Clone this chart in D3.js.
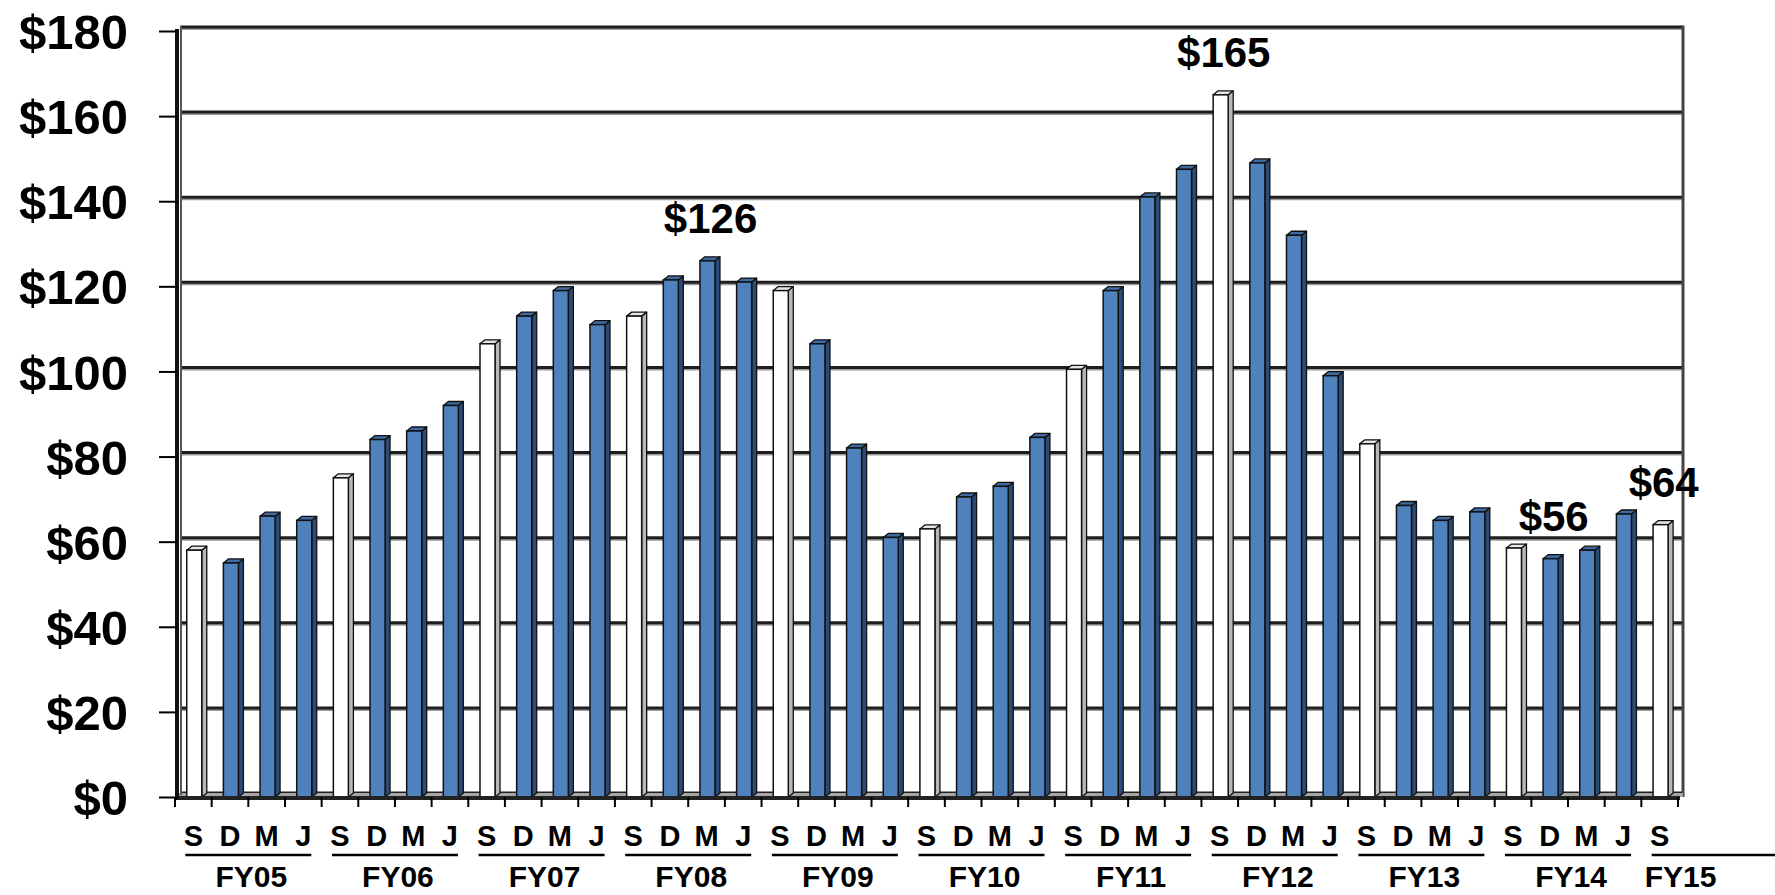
<!DOCTYPE html>
<html>
<head>
<meta charset="utf-8">
<script src="https://cdn.jsdelivr.net/npm/d3@7"></script>
<style>
  body { margin: 0; background: #fff; }
  svg text { font-family: "Liberation Sans", Arial, sans-serif; font-weight: bold; fill: #000; }
</style>
</head>
<body>
<div id="chart"></div>
<script>
// fiscal years and how many quarter-end months each one has on the chart
const fiscalYears = ["FY05", "FY06", "FY07", "FY08", "FY09", "FY10", "FY11", "FY12", "FY13", "FY14", "FY15"];
const monthsPerYear = [4, 4, 4, 4, 4, 4, 4, 4, 4, 4, 1];
const monthLetters = ["S", "D", "M", "J"];

// values in $ (millions), one per quarter
const values = [
  58, 55, 66, 65,
  75, 84, 86, 92,
  106.5, 113, 119, 111,
  113, 121.5, 126, 121,
  119, 106.5, 82, 61,
  63, 70.5, 73, 84.5,
  100.5, 119, 141, 147.5,
  165, 149, 132, 99,
  83, 68.5, 65, 67,
  58.5, 56, 58, 66.5,
  64
];

const yTicks = [0, 20, 40, 60, 80, 100, 120, 140, 160, 180];

// bars that carry a value label
const calloutIndex = [14, 28, 37, 40];

// build the category list
const cats = [];
fiscalYears.forEach(function(fy, k) {
  for (let m = 0; m < monthsPerYear[k]; m++) {
    cats.push({fy: fy, month: monthLetters[m], i: cats.length, value: values[cats.length]});
  }
});

const W = 1775, H = 895;
const svg = d3.select("#chart")
  .append("svg")
    .attr("width", W)
    .attr("height", H);

const x = d3.scaleBand()
  .domain(d3.range(cats.length))
  .range([175, 1678])
  .padding(0);
const bw = x.bandwidth();

const y = d3.scaleLinear()
  .domain([0, 180])
  .range([797, 31]);

// 3D offsets (back wall and bar depth)
const wallDx = 6, wallDy = 4;
const dx = 5, dy = 4;
const x0 = x.range()[0], x1 = x.range()[1];

// back wall gridlines
const grid = svg.append("g");
yTicks.forEach(function(t) {
  grid.append("line")
    .attr("x1", x0 + wallDx).attr("x2", x1 + 5)
    .attr("y1", y(t) - wallDy + 2).attr("y2", y(t) - wallDy + 2)
    .attr("stroke", "#9a9a9a").attr("stroke-width", 2);
  grid.append("line")
    .attr("x1", x0 + wallDx).attr("x2", x1 + 5)
    .attr("y1", y(t) - wallDy).attr("y2", y(t) - wallDy)
    .attr("stroke", "#1e1e1e").attr("stroke-width", 3);
});

// right edge of the back wall
svg.append("line")
  .attr("x1", x1 + 5).attr("x2", x1 + 5)
  .attr("y1", y(180) - wallDy - 1.5).attr("y2", y(0))
  .attr("stroke", "#444").attr("stroke-width", 3);

// floor
svg.append("rect")
  .attr("x", x0).attr("y", y(0) - wallDy)
  .attr("width", x1 - x0 + 5).attr("height", wallDy)
  .attr("fill", "#a6a6a6");

// bars
const bars = svg.append("g")
  .selectAll("g")
  .data(cats)
  .join("g");

function fx(d) { return x(d.i) + bw * 0.32; }
const fw = bw * 0.41;

function isWhite(d) { return d.month === "S"; }

// side face
bars.append("polygon")
  .attr("points", function(d) {
    const a = fx(d) + fw, t = y(d.value), b = y(0);
    return [[a, t], [a + dx, t - dy], [a + dx, b - dy], [a, b]].join(" ");
  })
  .attr("fill", function(d) { return isWhite(d) ? "#b8b8b8" : "#2b4c78"; })
  .attr("stroke", "#111").attr("stroke-width", 1.3).attr("stroke-linejoin", "round");

// top face
bars.append("polygon")
  .attr("points", function(d) {
    const a = fx(d), t = y(d.value);
    return [[a, t], [a + dx, t - dy], [a + fw + dx, t - dy], [a + fw, t]].join(" ");
  })
  .attr("fill", function(d) { return isWhite(d) ? "#e6e6e6" : "#3f6aa2"; })
  .attr("stroke", "#111").attr("stroke-width", 1.3).attr("stroke-linejoin", "round");

// front face
bars.append("rect")
  .attr("x", fx)
  .attr("y", function(d) { return y(d.value); })
  .attr("width", fw)
  .attr("height", function(d) { return y(0) - y(d.value); })
  .attr("fill", function(d) { return isWhite(d) ? "#ffffff" : "#4f81bd"; })
  .attr("stroke", "#111").attr("stroke-width", 1.5);

// front edge of the floor
svg.append("line")
  .attr("x1", x0).attr("x2", x1 + 2)
  .attr("y1", y(0) + 1).attr("y2", y(0) + 1)
  .attr("stroke", "#222").attr("stroke-width", 4);

// left wall
svg.append("line")
  .attr("x1", x0 + 6).attr("x2", x0 + 6)
  .attr("y1", y(180) - wallDy - 1.5).attr("y2", y(0) - 2)
  .attr("stroke", "#555").attr("stroke-width", 2);

// y axis
const yAxis = svg.append("g")
  .attr("transform", "translate(" + (x0 + 2) + ",0)")
  .call(d3.axisLeft(y).tickValues(yTicks).tickSize(18).tickPadding(31)
    .tickFormat(function(d) { return "$" + d; }));
yAxis.select(".domain")
  .attr("d", "M0," + (y(180) - 2) + "V" + (y(0) + 3))
  .attr("stroke", "#111").attr("stroke-width", 4);
yAxis.selectAll(".tick line").attr("stroke", "#000").attr("stroke-width", 2);
yAxis.selectAll(".tick text")
  .style("font-family", "'Liberation Sans', Arial, sans-serif")
  .style("font-weight", "bold")
  .style("font-size", "49px")
  .attr("fill", "#000")
  .attr("dy", "0.36em");

// x axis tick marks at category boundaries
svg.append("g")
  .selectAll("line")
  .data(d3.range(cats.length + 1))
  .join("line")
    .attr("x1", function(i) { return x0 + i * bw; })
    .attr("x2", function(i) { return x0 + i * bw; })
    .attr("y1", y(0)).attr("y2", y(0) + 10)
    .attr("stroke", "#000").attr("stroke-width", 2);

// month letters
svg.append("g")
  .selectAll("text")
  .data(cats)
  .join("text")
    .attr("x", function(d) { return x(d.i) + bw / 2; })
    .attr("y", 846)
    .attr("text-anchor", "middle")
    .style("font-size", "29px")
    .text(function(d) { return d.month; });

// underline + fiscal year label for each group
const groups = fiscalYears.map(function(fy, k) {
  const first = cats.findIndex(function(c) { return c.fy === fy; });
  return {fy: fy, first: first, n: monthsPerYear[k]};
});

svg.append("g")
  .selectAll("line")
  .data(groups)
  .join("line")
    .attr("x1", function(g) { return x(g.first) + bw / 2 - 8; })
    .attr("x2", function(g) { return x(g.first) + bw / 2 + 3 * bw + 8; })
    .attr("y1", 855).attr("y2", 855)
    .attr("stroke", "#000").attr("stroke-width", 2.5);

svg.append("g")
  .selectAll("text")
  .data(groups)
  .join("text")
    .attr("x", function(g) {
      return g.n === 4 ? x(g.first) + 2 * bw + 3 : x(g.first) + bw / 2 - 15;
    })
    .attr("y", 887)
    .attr("text-anchor", function(g) { return g.n === 4 ? "middle" : "start"; })
    .style("font-size", "30px")
    .text(function(g) { return g.fy; });

// value callouts
svg.append("g")
  .selectAll("text")
  .data(calloutIndex.map(function(i) { return cats[i]; }))
  .join("text")
    .attr("x", function(d) { return x(d.i) + bw / 2 + 4; })
    .attr("y", function(d) { return y(d.value) - 28; })
    .attr("text-anchor", "middle")
    .style("font-size", "42px")
    .text(function(d) { return "$" + d.value; });
</script>
</body>
</html>
